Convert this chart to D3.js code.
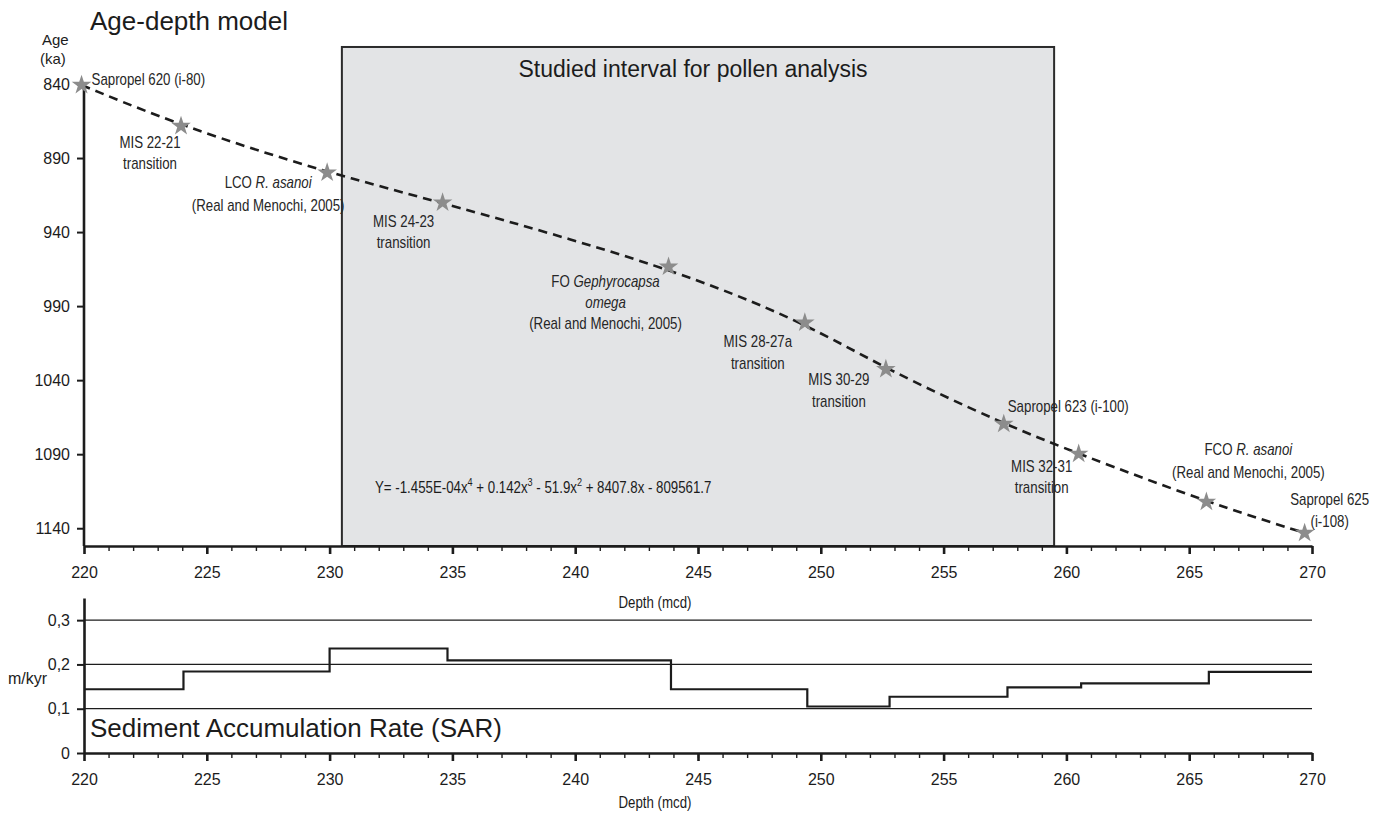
<!DOCTYPE html>
<html>
<head>
<meta charset="utf-8">
<script src="https://cdn.jsdelivr.net/npm/d3@7"></script>
<style>
  body { margin: 0; background: #fff; }
  svg { display: block; font-family: 'Liberation Sans', Arial, sans-serif; }
</style>
</head>
<body>
<svg width="1384" height="814"></svg>
<script>
// tie points of the age model
const eventDepth = [219.9, 223.95, 229.9, 234.6, 243.8, 249.35, 252.65, 257.45, 260.5, 265.7, 269.7]
const eventAge = [840.7, 868.4, 899.9, 920.1, 963.4, 1001.2, 1032.6, 1069.6, 1089.8, 1122.2, 1143.2]
const eventLabel = [
  ['Sapropel 620 (i-80)'],
  ['MIS 22-21', 'transition'],
  ['LCO <i>R. asanoi</i>', '(Real and Menochi, 2005)'],
  ['MIS 24-23', 'transition'],
  ['FO <i>Gephyrocapsa</i>', '<i>omega</i>', '(Real and Menochi, 2005)'],
  ['MIS 28-27a', 'transition'],
  ['MIS 30-29', 'transition'],
  ['Sapropel 623 (i-100)'],
  ['MIS 32-31', 'transition'],
  ['FCO <i>R. asanoi</i>', '(Real and Menochi, 2005)'],
  ['Sapropel 625', '(i-108)']
]

// sediment accumulation rate, step after each break
const sarBreaks = [220, 224.05, 230.0, 234.8, 243.9, 249.45, 252.8, 257.6, 260.6, 265.8, 270]
const sarValues = [0.144, 0.184, 0.236, 0.209, 0.144, 0.105, 0.127, 0.148, 0.157, 0.183]

const studiedInterval = [230.5, 259.5]
const ageTicks = [840, 890, 940, 990, 1040, 1090, 1140]
const depthTicks = [220, 225, 230, 235, 240, 245, 250, 255, 260, 265, 270]
const sarTicks = [0, 0.1, 0.2, 0.3]
const sarTickLabels = ['0', '0,1', '0,2', '0,3']

// label placement relative to each star (layout only)
const labelPos = [
  { dx: 10, dy: 0, anchor: 'start', lh: 22 },
  { dx: -31, dy: 22, anchor: 'middle', lh: 21 },
  { dx: -59, dy: 15, anchor: 'middle', lh: 23 },
  { dx: -39, dy: 24, anchor: 'middle', lh: 21 },
  { dx: -63, dy: 20, anchor: 'middle', lh: 21 },
  { dx: -47, dy: 24, anchor: 'middle', lh: 22 },
  { dx: -47, dy: 16, anchor: 'middle', lh: 22 },
  { dx: 4, dy: -12, anchor: 'start', lh: 22 },
  { dx: -37, dy: 18, anchor: 'middle', lh: 21 },
  { dx: 42, dy: -47, anchor: 'middle', lh: 23 },
  { dx: 25, dy: -28, anchor: 'middle', lh: 22 }
]

const svg = d3.select('svg')
const ink = '#1c1c1c'
const squeeze = 0.83   // no condensed face installed, so narrow text is scaled horizontally

const x = d3.scaleLinear().domain([220, 270]).range([84, 1312])
const yAge = d3.scaleLinear().domain([840, 1152]).range([84, 546])
const ySar = d3.scaleLinear().domain([0, 0.35]).range([753, 598])

function narrowText(parent, px, py) {
  return parent.append('text')
    .attr('transform', `translate(${px},${py}) scale(${squeeze},1)`)
}

// ---------- age-depth panel ----------
svg.append('text')
  .attr('x', 90).attr('y', 30)
  .attr('font-size', 26).attr('fill', ink)
  .text('Age-depth model')

svg.append('text').attr('x', 42).attr('y', 45).attr('font-size', 15).attr('fill', ink).text('Age')
svg.append('text').attr('x', 40).attr('y', 64).attr('font-size', 15).attr('fill', ink).text('(ka)')

svg.append('rect')
  .attr('x', x(studiedInterval[0]))
  .attr('y', yAge(815))
  .attr('width', x(studiedInterval[1]) - x(studiedInterval[0]))
  .attr('height', yAge(1152) - yAge(815))
  .attr('fill', '#e3e4e6')
  .attr('stroke', '#2b2b2b')
  .attr('stroke-width', 2)

svg.append('text')
  .attr('x', (x(studiedInterval[0]) + x(studiedInterval[1])) / 2 - 5)
  .attr('y', 77)
  .attr('text-anchor', 'middle')
  .attr('font-size', 23).attr('fill', ink)
  .text('Studied interval for pollen analysis')

// equation
const eq = narrowText(svg, 375, 493).attr('font-size', 16).attr('fill', ink)
const eqParts = [['Y= -1.455E-04x', ''], ['4', 'sup'], [' + 0.142x', ''], ['3', 'sup'], [' - 51.9x', ''], ['2', 'sup'], [' + 8407.8x - 809561.7', '']]
eqParts.forEach(([t, k], i) => {
  const ts = eq.append('tspan').text(t)
  if (k === 'sup') ts.attr('font-size', 11).attr('dy', -7)
  else if (i > 0) ts.attr('dy', 7)
})

function styleAxis(g) {
  g.select('.domain').attr('stroke', ink).attr('stroke-width', 2.6)
  g.selectAll('.tick line').attr('stroke', ink).attr('stroke-width', 2)
  g.selectAll('.tick text').attr('fill', ink).attr('font-size', 16)
    .attr('font-family', "'Liberation Sans', Arial, sans-serif")
}

const yAxis = svg.append('g')
  .attr('transform', 'translate(84,0)')
  .call(d3.axisLeft(yAge).tickValues(ageTicks).tickFormat(d3.format('d')).tickSize(7).tickPadding(7).tickSizeOuter(0))
styleAxis(yAxis)
yAxis.select('.domain').attr('d', `M0,${yAge(840)}V${yAge(1152)}`)

function depthAxis(yPos) {
  const minor = svg.append('g')
    .attr('transform', `translate(0,${yPos})`)
    .call(d3.axisBottom(x).tickValues(d3.range(221, 270)).tickSize(5).tickFormat(''))
  minor.select('.domain').remove()
  minor.selectAll('.tick line').attr('stroke', ink).attr('stroke-width', 1.4)
  const major = svg.append('g')
    .attr('transform', `translate(0,${yPos})`)
    .call(d3.axisBottom(x).tickValues(depthTicks).tickFormat(d3.format('d')).tickSize(8).tickPadding(13).tickSizeOuter(0))
  styleAxis(major)
  major.selectAll('.tick line').attr('stroke-width', 2.6)
  return major
}

depthAxis(546)
narrowText(svg, 655, 608).attr('text-anchor', 'middle')
  .attr('font-size', 16).attr('fill', ink).text('Depth (mcd)')

// fitted curve through the tie points
const pts = eventDepth.map((d, i) => [d, eventAge[i]])
svg.append('path')
  .datum(pts)
  .attr('fill', 'none')
  .attr('stroke', ink)
  .attr('stroke-width', 2.6)
  .attr('stroke-dasharray', '9,6')
  .attr('d', d3.line().x(d => x(d[0])).y(d => yAge(d[1])).curve(d3.curveBasis))

svg.append('g').selectAll('path')
  .data(pts)
  .enter().append('path')
  .attr('transform', d => `translate(${x(d[0])},${yAge(d[1])})`)
  .attr('d', d3.symbol().type(d3.symbolStar).size(120))
  .attr('fill', '#8c8c8c')

// labels
const labels = svg.append('g').attr('font-size', 16).attr('fill', '#262626')
eventLabel.forEach((lines, i) => {
  const p = labelPos[i]
  const cx = x(eventDepth[i]) + p.dx
  const cy = yAge(eventAge[i]) + p.dy
  lines.forEach((line, j) => {
    const t = narrowText(labels, cx, cy + j * p.lh).attr('text-anchor', p.anchor)
    line.split(/(<i>.*?<\/i>)/).filter(s => s.length).forEach(seg => {
      const it = seg.startsWith('<i>')
      t.append('tspan').attr('font-style', it ? 'italic' : null).text(it ? seg.slice(3, -4) : seg)
    })
  })
})

// ---------- SAR panel ----------
svg.append('g').selectAll('line')
  .data(sarTicks.filter(d => d > 0))
  .enter().append('line')
  .attr('x1', x(220)).attr('x2', x(270))
  .attr('y1', d => ySar(d)).attr('y2', d => ySar(d))
  .attr('stroke', ink).attr('stroke-width', 1.3)

const sarPts = sarValues.map((v, i) => [sarBreaks[i], v]).concat([[sarBreaks[sarBreaks.length - 1], sarValues[sarValues.length - 1]]])
svg.append('path')
  .datum(sarPts)
  .attr('fill', 'none')
  .attr('stroke', ink)
  .attr('stroke-width', 2.2)
  .attr('d', d3.line().x(d => x(d[0])).y(d => ySar(d[1])).curve(d3.curveStepAfter))

const sarAxis = svg.append('g')
  .attr('transform', 'translate(84,0)')
  .call(d3.axisLeft(ySar).tickValues(sarTicks).tickFormat((d, i) => sarTickLabels[i]).tickSize(7).tickPadding(7).tickSizeOuter(0))
styleAxis(sarAxis)

depthAxis(753)
narrowText(svg, 655, 808).attr('text-anchor', 'middle')
  .attr('font-size', 16).attr('fill', ink).text('Depth (mcd)')

svg.append('text').attr('x', 8).attr('y', 684).attr('font-size', 16).attr('fill', ink).text('m/kyr')

svg.append('text')
  .attr('x', 90).attr('y', 737)
  .attr('font-size', 26).attr('fill', ink)
  .text('Sediment Accumulation Rate (SAR)')
</script>
</body>
</html>
